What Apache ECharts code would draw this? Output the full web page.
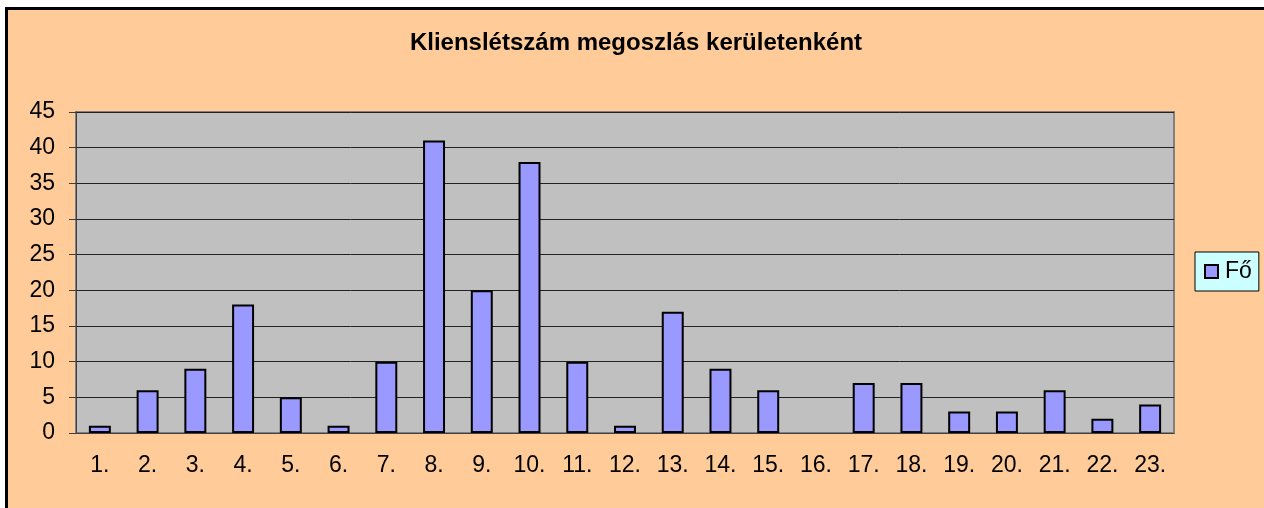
<!DOCTYPE html>
<html>
<head>
<meta charset="utf-8">
<script src="https://cdn.jsdelivr.net/npm/echarts@6/dist/echarts.min.js"></script>
<style>
html, body { margin: 0; padding: 0; background: #ffffff; }
#main {
    position: absolute; left: 5px; top: 7px; width: 1256px; height: 498px;
    border-left: 3px solid #000; border-top: 3px solid #000;
    background: #FFCC99;
}
</style>
</head>
<body>
<div id="main"></div>
<script>
var categories = ['1.', '2.', '3.', '4.', '5.', '6.', '7.', '8.', '9.', '10.', '11.', '12.',
    '13.', '14.', '15.', '16.', '17.', '18.', '19.', '20.', '21.', '22.', '23.'];
var foValues = [1, 6, 9, 18, 5, 1, 10, 41, 20, 38, 10, 1, 17, 9, 6, 0, 7, 7, 3, 3, 6, 2, 4];
var titleText = 'Klienslétszám megoszlás kerületenként';
var seriesName = 'Fő';

var myChart = echarts.init(document.getElementById('main'));
var font = 'Liberation Sans, Arial, sans-serif';
var option = {
    backgroundColor: '#FFCC99',
    animation: false,
    title: {
        text: titleText,
        left: 'center',
        top: 16,
        textStyle: { fontFamily: font, fontSize: 24, fontWeight: 'bold', color: '#000' }
    },
    legend: {
        data: [{ name: seriesName, icon: 'rect' }],
        orient: 'vertical',
        left: 1187,
        top: 242,
        padding: [8, 7, 8, 9],
        backgroundColor: '#CCFFFF',
        borderColor: '#000',
        borderWidth: 1,
        itemWidth: 13,
        itemHeight: 13,
        itemGap: 4,
        itemStyle: { borderColor: '#000', borderWidth: 2 },
        textStyle: { fontFamily: font, fontSize: 23, color: '#000', padding: [0, 0, 0, 2] }
    },
    grid: {
        left: 68,
        top: 102,
        right: 90,
        bottom: 75,
        show: true,
        backgroundColor: '#C0C0C0',
        borderColor: '#808080',
        borderWidth: 2
    },
    xAxis: {
        type: 'category',
        data: categories,
        boundaryGap: true,
        axisLine: { lineStyle: { color: '#404040', width: 1 } },
        axisTick: { length: 7, lineStyle: { color: '#404040' } },
        axisLabel: { margin: 21, fontFamily: font, fontSize: 23, color: '#000' }
    },
    yAxis: {
        type: 'value',
        min: 0,
        max: 45,
        interval: 5,
        axisLine: { show: true, lineStyle: { color: '#404040', width: 1 } },
        axisTick: { show: true, length: 7, lineStyle: { color: '#404040' } },
        axisLabel: { margin: 21, fontFamily: font, fontSize: 23, color: '#000' },
        splitLine: { lineStyle: { color: '#222', width: 1 } }
    },
    series: [
        {
            name: seriesName,
            type: 'bar',
            data: foValues.map(function (v) {
                return v === 0 ? { value: v, itemStyle: { borderWidth: 0 } } : v;
            }),
            barCategoryGap: '54%',
            itemStyle: { color: '#9999FF', borderColor: '#000', borderWidth: 2 }
        }
    ]
};
myChart.setOption(option);
</script>
</body>
</html>
